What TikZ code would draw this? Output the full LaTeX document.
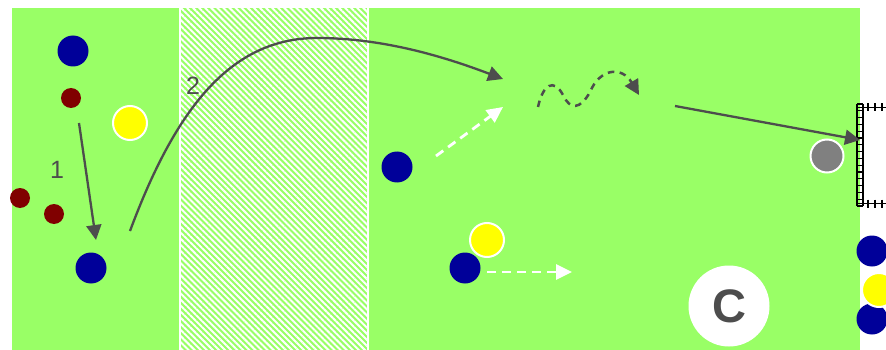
\documentclass[tikz,border=0pt]{standalone}
\usepackage{fontspec}
\setmainfont{Liberation Sans}
\usetikzlibrary{arrows.meta,patterns.meta}
\definecolor{field}{RGB}{153,255,102}
\definecolor{navy}{RGB}{0,0,153}
\definecolor{maroon}{RGB}{128,0,0}
\definecolor{yel}{RGB}{255,255,0}
\definecolor{ink}{RGB}{77,77,77}
\definecolor{grayp}{RGB}{128,128,128}
\begin{document}
\begin{tikzpicture}[x=1pt,y=-1pt,
  player/.style={circle,fill=navy,minimum size=31pt,inner sep=0pt},
  opp/.style={circle,fill=maroon,minimum size=20pt,inner sep=0pt},
  ballp/.style={circle,fill=yel,draw=white,line width=2pt,minimum size=34pt,inner sep=0pt},
  keeper/.style={circle,fill=grayp,draw=white,line width=2pt,minimum size=33pt,inner sep=0pt},
  coach/.style={circle,fill=white,minimum size=81pt,inner sep=0pt,text=ink,font=\bfseries\fontsize{47}{47}\selectfont},
  move/.style={draw=ink,line width=2.3pt,-{Triangle[length=15pt,width=15pt]}},
  runarrow/.style={draw=white,line width=2.8pt,dash pattern=on 9pt off 6pt,-{Triangle[length=16pt,width=15pt]}},
  dribble/.style={draw=ink,line width=2.5pt,dash pattern=on 6.5pt off 5.5pt,-{Triangle[length=15pt,width=15pt]}},
  num/.style={text=ink,font=\fontsize{25}{25}\selectfont,inner sep=0pt},
  netline/.style={draw=black,line width=1.2pt}
]
\useasboundingbox (0,0) rectangle (886,350);
\fill[white] (0,0) rectangle (886,350);
% field
\fill[field] (12,8) rectangle (860,350);
% hatched zone
\fill[white] (179,8) rectangle (369,350);
\fill[field] (181,8) rectangle (367,350);
\fill[pattern={Lines[angle=-45,distance=4.3pt,line width=2pt]},pattern color=white] (181,8) rectangle (367,350);
% goal
\draw[netline] (857,104) -- (857,206) (863,104) -- (863,206);
\foreach \y in {104,110.8,...,207} \draw[netline] (857,\y) -- (863,\y);
\draw[netline] (857,107.5) -- (886,107.5) (857,203.5) -- (886,203.5);
\foreach \x in {868,875,882} {
  \draw[netline] (\x,103.5) -- (\x,111.5);
  \draw[netline] (\x,199.5) -- (\x,207.5);
}
% players
\node[player] (b1) at (73,51) {};
\node[opp] (r1) at (71,98) {};
\node[ballp] (y1) at (130,123) {};
\node[opp] (r2) at (20,198) {};
\node[opp] (r3) at (54,214) {};
\node[player] (b2) at (91,268) {};
\node[num] (n1) at (57,170) {1};
\node[num] (n2) at (193,86) {2};
\node[player] (b3) at (397,167) {};
\node[ballp] (y2) at (487,240) {};
\node[player] (b4) at (465,268) {};
\node[keeper] (g1) at (827,156) {};
\node[coach] (c1) at (729,306) {C};
\node[player] (b5) at (872,251) {};
\node[player] (b6) at (872,319) {};
\node[ballp] (y3) at (879,290) {};
% connector coordinates
\coordinate (a1s) at (79,123);
\coordinate (a1e) at (96,240);
\coordinate (a2s) at (130,231);
\coordinate (a2m) at (317,38);
\coordinate (a2e) at (503,79);
\coordinate (w1s) at (436,156);
\coordinate (w1e) at (503,107);
\coordinate (w2s) at (487,272);
\coordinate (w2e) at (572,272);
\coordinate (d1s) at (538,107);
\coordinate (d1a) at (563,95);
\coordinate (d1b) at (590,92);
\coordinate (d1e) at (639,95);
\coordinate (a3s) at (675,106);
\coordinate (a3e) at (860,140);
% arrows
\draw[move] (a1s) -- (a1e);
\draw[move] (a2s) .. controls (175,110) and (230,38) .. (a2m) .. controls (380,38) and (440,55) .. (a2e);
\draw[runarrow] (w1s) -- (w1e);
\draw[runarrow] (w2s) -- (w2e);
\draw[dribble] (d1s) .. controls (543,84) and (554,78) .. (d1a) .. controls (570,110) and (580,110) .. (d1b) .. controls (600,68) and (622,66) .. (d1e);
\draw[move] (a3s) -- (a3e);
\end{tikzpicture}
\end{document}
